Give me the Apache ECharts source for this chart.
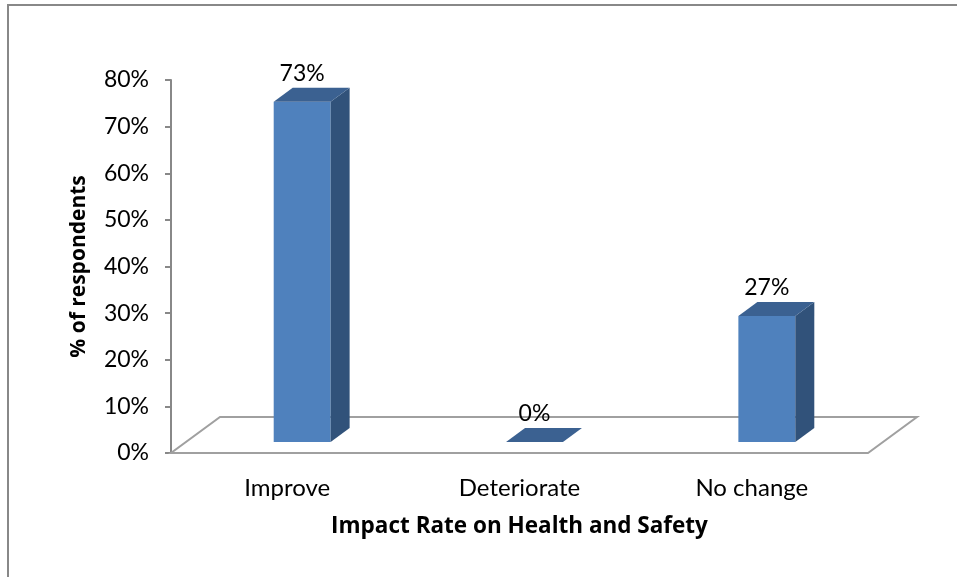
<!DOCTYPE html>
<html>
<head>
<meta charset="utf-8">
<script src="https://cdn.jsdelivr.net/npm/echarts@6/dist/echarts.min.js"></script>
<style>
  html, body { margin: 0; padding: 0; background: #ffffff; }
  #chart { width: 957px; height: 577px; }
</style>
</head>
<body>
<div id="chart"></div>
<script>
// Survey results: impact rate on health and safety
const categories = ['Improve', 'Deteriorate', 'No change'];
const shares = [73, 0, 27];          // % of respondents
const yMin = 0, yMax = 80, yStep = 10;

const FONT = 'Lato';
const NAME_FONT = 'Open Sans';
const FRONT = '#4F81BD';
const SIDE = '#31527A';
const TOP = '#3B6191';
const FLOOR_DEPTH = [49, -36];   // pseudo-3D depth of the floor plane
const BAR_SHIFT = [15, -11];     // bars stand part-way back on the floor
const BAR_DEPTH = [19, -14];     // depth of each column
const BAR_RATIO = 0.245;         // column width as a share of the band

const chart = echarts.init(document.getElementById('chart'), null, { renderer: 'canvas' });

function renderFloor(params, api) {
  const cs = params.coordSys;
  const x0 = cs.x, x1 = cs.x + cs.width, y = cs.y + cs.height;
  const dx = FLOOR_DEPTH[0], dy = FLOOR_DEPTH[1];
  return {
    type: 'polygon',
    shape: { points: [[x0, y], [x1, y], [x1 + dx, y + dy], [x0 + dx, y + dy]] },
    style: { fill: '#ffffff', stroke: '#a0a0a0', lineWidth: 2 }
  };
}

function renderBar(params, api) {
  const ci = api.value(0), v = api.value(1);
  const base = api.coord([ci, 0]);
  const top = api.coord([ci, v]);
  const w = api.size([1, 0])[0] * BAR_RATIO;
  const xl = base[0] - w / 2 + BAR_SHIFT[0];
  const xr = xl + w;
  const yb = base[1] + BAR_SHIFT[1];
  const yt = top[1] + BAR_SHIFT[1];
  const ddx = BAR_DEPTH[0], ddy = BAR_DEPTH[1];
  const children = [];
  if (yb - yt > 0.5) {
    children.push({
      type: 'rect',
      shape: { x: xl, y: yt, width: w, height: yb - yt },
      style: { fill: FRONT }
    });
    children.push({
      type: 'polygon',
      shape: { points: [[xr, yb], [xr, yt], [xr + ddx, yt + ddy], [xr + ddx, yb + ddy]] },
      style: { fill: SIDE }
    });
  }
  children.push({
    type: 'polygon',
    shape: { points: [[xl, yt], [xr, yt], [xr + ddx, yt + ddy], [xl + ddx, yt + ddy]] },
    style: { fill: TOP }
  });
  children.push({
    type: 'text',
    style: {
      x: xl + w / 2, y: yt + ddy - 3,
      text: v + '%',
      fill: '#000000',
      font: '23px ' + FONT,
      align: 'center',
      verticalAlign: 'bottom'
    }
  });
  return { type: 'group', children: children };
}

const option = {
  backgroundColor: '#ffffff',
  animation: false,
  graphic: [{
    type: 'rect',
    shape: { x: 8, y: 5, width: 1000, height: 700 },
    style: { fill: 'none', stroke: '#888888', lineWidth: 2 },
    silent: true,
    z: 100
  }],
  grid: { left: 171, right: 89, top: 80, bottom: 124 },
  xAxis: {
    type: 'category',
    data: categories,
    axisLine: { show: false },
    axisTick: { show: false },
    axisLabel: { color: '#000000', fontFamily: FONT, fontSize: 24, margin: 23 },
    name: 'Impact Rate on Health and Safety',
    nameLocation: 'middle',
    nameGap: 62,
    nameTextStyle: { color: '#000000', fontFamily: NAME_FONT, fontSize: 22.5, fontWeight: 'bold' }
  },
  yAxis: {
    type: 'value',
    min: yMin, max: yMax, interval: yStep,
    axisLine: { show: true, lineStyle: { color: '#888888', width: 2 } },
    axisTick: { show: true, inside: false, length: 6, lineStyle: { color: '#888888', width: 2 } },
    splitLine: { show: false },
    axisLabel: { color: '#000000', fontFamily: FONT, fontSize: 23, margin: 22, formatter: '{value}%' },
    name: '% of respondents',
    nameLocation: 'middle',
    nameGap: 81,
    nameTextStyle: { color: '#000000', fontFamily: NAME_FONT, fontSize: 21, fontWeight: 'bold' }
  },
  series: [
    {
      type: 'custom',
      renderItem: renderFloor,
      data: [[0, 0]],
      z: 1,
      silent: true
    },
    {
      type: 'custom',
      renderItem: renderBar,
      data: categories.map((c, i) => [i, shares[i]]),
      encode: { x: 0, y: 1 },
      z: 3
    }
  ]
};

chart.setOption(option);
</script>
</body>
</html>
